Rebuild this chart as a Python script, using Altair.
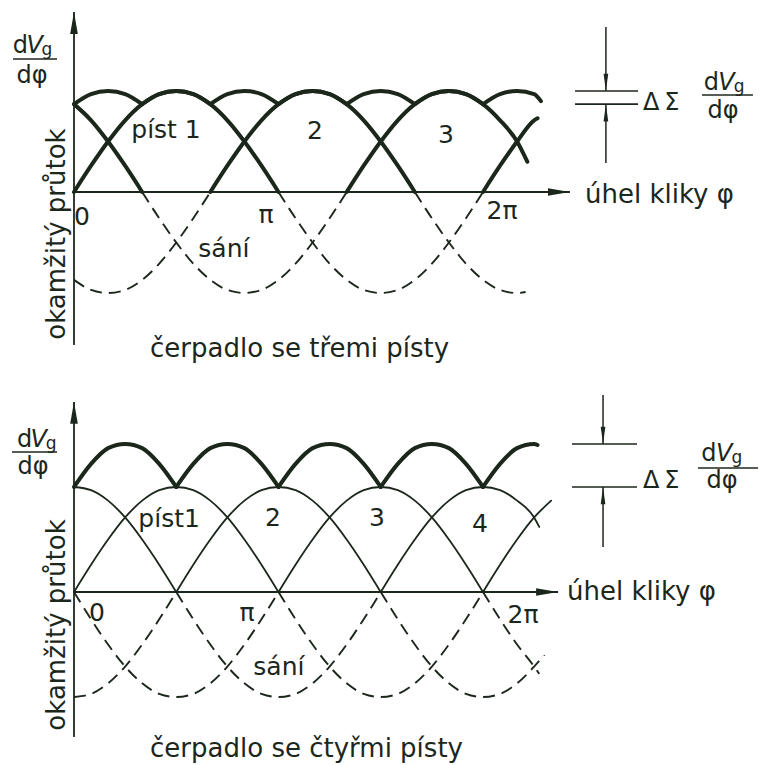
import altair as alt
import pandas as pd

INK = "#1c271c"
FONT = "DejaVu Sans"
PHI = "φ"

# Phase of every curve is given in twelfths of pi (15 degree steps),
# flow values are relative to one piston's peak delivery.

# ---- pump with three pistons -------------------------------------------
T_P1A_PHI = [0, 1, 2, 3, 4, 5, 6, 7, 8, 9, 10, 11, 12]
T_P1A_VAL = [0, 0.26, 0.5, 0.71, 0.87, 0.97, 1, 0.97, 0.87, 0.71, 0.5, 0.26, 0]
T_P1B_PHI = [24, 25, 26, 27, 27.2]
T_P1B_VAL = [0, 0.26, 0.5, 0.71, 0.73]
T_P2_PHI = [8, 9, 10, 11, 12, 13, 14, 15, 16, 17, 18, 19, 20]
T_P2_VAL = [0, 0.26, 0.5, 0.71, 0.87, 0.97, 1, 0.97, 0.87, 0.71, 0.5, 0.26, 0]
T_P3A_PHI = [0, 1, 2, 3, 4]
T_P3A_VAL = [0.87, 0.71, 0.5, 0.26, 0]
T_P3B_PHI = [16, 17, 18, 19, 20, 21, 22, 23, 24, 25, 26, 26.6]
T_P3B_VAL = [0, 0.26, 0.5, 0.71, 0.87, 0.97, 1, 0.97, 0.87, 0.71, 0.5, 0.3]

# suction strokes (negative flow)
T_S1_PHI = [12, 13, 14, 15, 16, 17, 18, 19, 20, 21, 22, 23, 24]
T_S1_VAL = [0, -0.26, -0.5, -0.71, -0.87, -0.97, -1, -0.97, -0.87, -0.71, -0.5, -0.26, 0]
T_S2A_PHI = [0, 1, 2, 3, 4, 5, 6, 7, 8]
T_S2A_VAL = [-0.87, -0.97, -1, -0.97, -0.87, -0.71, -0.5, -0.26, 0]
T_S2B_PHI = [20, 21, 22, 23, 24, 25, 26, 26.5]
T_S2B_VAL = [0, -0.26, -0.5, -0.71, -0.87, -0.97, -1, -0.99]
T_S3_PHI = [4, 5, 6, 7, 8, 9, 10, 11, 12, 13, 14, 15, 16]
T_S3_VAL = [0, -0.26, -0.5, -0.71, -0.87, -0.97, -1, -0.97, -0.87, -0.71, -0.5, -0.26, 0]

# total delivery of the three pistons, arcs meet at the cusps
T_SUM_PHI = [0, 1, 2, 3, 4, 5, 6, 7, 8, 9, 10, 11, 12, 13, 14, 15,
             16, 17, 18, 19, 20, 21, 22, 23, 24, 25, 26, 27, 27.4]
T_SUM_VAL = [0.87, 0.97, 1, 0.97, 0.87, 0.97, 1, 0.97, 0.87, 0.97, 1, 0.97,
             0.87, 0.97, 1, 0.97, 0.87, 0.97, 1, 0.97, 0.87, 0.97, 1, 0.97,
             0.87, 0.97, 1, 0.97, 0.9]
T_SUM_CUSPS = [4, 8, 12, 16, 20, 24]

# ---- pump with four pistons --------------------------------------------
B_P1A_PHI = [0, 1, 2, 3, 4, 5, 6, 7, 8, 9, 10, 11, 12]
B_P1A_VAL = [0, 0.26, 0.5, 0.71, 0.87, 0.97, 1, 0.97, 0.87, 0.71, 0.5, 0.26, 0]
B_P1B_PHI = [24, 25, 26, 27, 28]
B_P1B_VAL = [0, 0.26, 0.5, 0.71, 0.87]
B_P2_PHI = [6, 7, 8, 9, 10, 11, 12, 13, 14, 15, 16, 17, 18]
B_P2_VAL = [0, 0.26, 0.5, 0.71, 0.87, 0.97, 1, 0.97, 0.87, 0.71, 0.5, 0.26, 0]
B_P3_PHI = [12, 13, 14, 15, 16, 17, 18, 19, 20, 21, 22, 23, 24]
B_P3_VAL = [0, 0.26, 0.5, 0.71, 0.87, 0.97, 1, 0.97, 0.87, 0.71, 0.5, 0.26, 0]
B_P4A_PHI = [0, 1, 2, 3, 4, 5, 6]
B_P4A_VAL = [1, 0.97, 0.87, 0.71, 0.5, 0.26, 0]
B_P4B_PHI = [18, 19, 20, 21, 22, 23, 24, 25, 26, 27, 27.3]
B_P4B_VAL = [0, 0.26, 0.5, 0.71, 0.87, 0.97, 1, 0.97, 0.87, 0.71, 0.62]

B_S1_PHI = [12, 13, 14, 15, 16, 17, 18, 19, 20, 21, 22, 23, 24]
B_S1_VAL = [0, -0.26, -0.5, -0.71, -0.87, -0.97, -1, -0.97, -0.87, -0.71, -0.5, -0.26, 0]
B_S2A_PHI = [0, 1, 2, 3, 4, 5, 6]
B_S2A_VAL = [-1, -0.97, -0.87, -0.71, -0.5, -0.26, 0]
B_S2B_PHI = [18, 19, 20, 21, 22, 23, 24, 25, 26, 27, 27.6]
B_S2B_VAL = [0, -0.26, -0.5, -0.71, -0.87, -0.97, -1, -0.97, -0.87, -0.71, -0.6]
B_S3A_PHI = [0, 1, 2, 3, 4, 5, 6, 7, 8, 9, 10, 11, 12]
B_S3A_VAL = [0, -0.26, -0.5, -0.71, -0.87, -0.97, -1, -0.97, -0.87, -0.71, -0.5, -0.26, 0]
B_S3B_PHI = [24, 25, 26, 27, 27.3]
B_S3B_VAL = [0, -0.26, -0.5, -0.71, -0.78]
B_S4_PHI = [6, 7, 8, 9, 10, 11, 12, 13, 14, 15, 16, 17, 18]
B_S4_VAL = [0, -0.26, -0.5, -0.71, -0.87, -0.97, -1, -0.97, -0.87, -0.71, -0.5, -0.26, 0]

B_SUM_PHI = [0, 1, 2, 3, 4, 5, 6, 7, 8, 9, 10, 11, 12, 13, 14, 15, 16, 17,
             18, 19, 20, 21, 22, 23, 24, 25, 26, 27, 27.2]
B_SUM_VAL = [1, 1.22, 1.37, 1.41, 1.37, 1.22, 1, 1.22, 1.37, 1.41, 1.37, 1.22,
             1, 1.22, 1.37, 1.41, 1.37, 1.22, 1, 1.22, 1.37, 1.41, 1.37, 1.22,
             1, 1.22, 1.37, 1.41, 1.40]
B_SUM_CUSPS = [6, 12, 18, 24]


def curves(items):
    rows = []
    for name, phis, vals in items:
        for p, v in zip(phis, vals):
            rows.append({"seg": name, "phi": p / 12, "v": v})
    return pd.DataFrame(rows)


def arcs(name, phis, vals, cusps):
    rows, k = [], 0
    for p, v in zip(phis, vals):
        rows.append({"seg": f"{name}{k}", "phi": p / 12, "v": v})
        if p in cusps:
            k += 1
            rows.append({"seg": f"{name}{k}", "phi": p / 12, "v": v})
    return pd.DataFrame(rows)


XDOM = [-74 / 204.5, (761 - 74) / 204.5]

UP = "M0,0 L0.35,2 L-0.35,2 Z"
RIGHT = "M0,0 L-2,-0.35 L-2,0.35 Z"
UP_S = "M0,0 L0.27,2 L-0.27,2 Z"
DOWN_S = "M0,0 L0.27,-2 L-0.27,-2 Z"

STYLES = {
    "label": dict(fontSize=25, align="center", baseline="middle"),
    "caption": dict(fontSize=26, align="left", baseline="alphabetic"),
    "vertical": dict(fontSize=26, align="center", baseline="middle", angle=270),
    "frac": dict(fontSize=24, align="center", baseline="alphabetic"),
    "fracV": dict(fontSize=24, align="center", baseline="alphabetic", fontStyle="italic"),
    "sub": dict(fontSize=17, align="center", baseline="alphabetic"),
    "delta": dict(fontSize=24, align="left", baseline="alphabetic"),
}


def frac(xd, xv, xg, base, base2, xphi):
    """Pieces of the dV_g / dphi fraction."""
    return [
        (xd, base, "d", "frac"), (xv, base, "V", "fracV"),
        (xg, base - 0.02, "g", "sub"), (xphi, base2, "d" + PHI, "frac"),
    ]


def panel(ydom, height, bold, thin, dashed, env, axis_bottom, axis_top, axis_right,
          mark_x, hi, lo, ann_top, ann_bottom, bar_x, frac_bars, labels):
    x = alt.X("phi:Q", scale=alt.Scale(domain=XDOM, nice=False, zero=False), axis=None)
    y = alt.Y("v:Q", scale=alt.Scale(domain=ydom, nice=False, zero=False), axis=None)
    layers = []

    rules = pd.DataFrame([
        {"phi": 0, "v": axis_bottom, "phi2": 0, "v2": axis_top, "w": 1.8},
        {"phi": 0, "v": 0, "phi2": axis_right, "v2": 0, "w": 1.8},
        {"phi": mark_x, "v": ann_top, "phi2": mark_x, "v2": hi, "w": 1.5},
        {"phi": mark_x, "v": ann_bottom, "phi2": mark_x, "v2": lo, "w": 1.5},
        {"phi": bar_x[0], "v": hi, "phi2": bar_x[1], "v2": hi, "w": 1.6},
        {"phi": bar_x[0], "v": lo, "phi2": bar_x[1], "v2": lo, "w": 1.6},
    ] + [{"phi": a, "v": b, "phi2": c, "v2": b, "w": 1.6} for a, c, b in frac_bars])
    layers.append(alt.Chart(rules).mark_rule(color=INK).encode(
        x=x, y=y, x2="phi2:Q", y2="v2:Q",
        strokeWidth=alt.StrokeWidth("w:Q", scale=None)))

    if dashed is not None:
        layers.append(alt.Chart(dashed).mark_line(
            color=INK, strokeWidth=1.9, strokeDash=[12, 7], interpolate="monotone"
        ).encode(x=x, y=y, detail="seg:N"))
    if thin is not None:
        layers.append(alt.Chart(thin).mark_line(
            color=INK, strokeWidth=1.8, interpolate="monotone", strokeCap="round"
        ).encode(x=x, y=y, detail="seg:N"))
    for df in [bold, env]:
        if df is not None:
            layers.append(alt.Chart(df).mark_line(
                color=INK, strokeWidth=4, interpolate="monotone",
                strokeCap="round", strokeJoin="round"
            ).encode(x=x, y=y, detail="seg:N"))

    heads = [
        (0, axis_top, UP, 480),
        (axis_right, 0, RIGHT, 480),
        (mark_x, hi, DOWN_S, 300),
        (mark_x, lo, UP_S, 300),
    ]
    for px, py, shape, size in heads:
        layers.append(alt.Chart(pd.DataFrame({"phi": [px], "v": [py]})).mark_point(
            shape=shape, size=size, filled=True, opacity=1, color=INK, strokeWidth=0
        ).encode(x=x, y=y))

    lab = pd.DataFrame(labels, columns=["phi", "v", "text", "style"])
    for style, opts in STYLES.items():
        sub = lab[lab["style"] == style]
        if len(sub):
            layers.append(alt.Chart(sub).mark_text(
                font=FONT, color=INK, **opts).encode(x=x, y=y, text="text:N"))
    return alt.layer(*layers).properties(width=761, height=height)


# ---- three-piston panel --------------------------------------------------
top_bold = curves([
    ("p1a", T_P1A_PHI, T_P1A_VAL), ("p1b", T_P1B_PHI, T_P1B_VAL),
    ("p2", T_P2_PHI, T_P2_VAL), ("p3a", T_P3A_PHI, T_P3A_VAL),
    ("p3b", T_P3B_PHI, T_P3B_VAL)])
top_dash = curves([
    ("s1", T_S1_PHI, T_S1_VAL), ("s2a", T_S2A_PHI, T_S2A_VAL),
    ("s2b", T_S2B_PHI, T_S2B_VAL), ("s3", T_S3_PHI, T_S3_VAL)])
top_env = arcs("sum", T_SUM_PHI, T_SUM_VAL, T_SUM_CUSPS)

top_labels = [
    (0.45, 0.614, "píst 1", "label"),
    (1.178, 0.604, "2", "label"),
    (1.819, 0.564, "3", "label"),
    (0.039, -0.248, "0", "label"),
    (0.939, -0.228, "π", "label"),
    (2.093, -0.188, "2π", "label"),
    (0.733, -0.564, "sání", "label"),
    (2.499, -0.109, "úhel kliky " + PHI, "caption"),
    (0.372, -1.634, "čerpadlo se třemi písty", "caption"),
    (-0.083, -0.416, "okamžitý průtok", "vertical"),
    (2.782, 0.812, "Δ\u2009Σ", "delta"),
] + frac(-0.262, -0.192, -0.132, 1.376, 1.079, -0.205) \
  + frac(3.117, 3.190, 3.252, 1.01, 0.733, 3.174)
TOP_YDOM = [-(382 - 192) / 101, 192 / 101]

top = panel(TOP_YDOM, 382, top_bold, None, top_dash, top_env,
            -1.515, 1.782, 2.425, 2.601, max(T_SUM_VAL), min(T_SUM_VAL), 1.634, 0.287,
            (2.450, 2.758), [(-0.298, -0.083, 1.317), (3.071, 3.320, 0.960)], top_labels)

# ---- four-piston panel ---------------------------------------------------
bot_thin = curves([
    ("p1a", B_P1A_PHI, B_P1A_VAL), ("p1b", B_P1B_PHI, B_P1B_VAL),
    ("p2", B_P2_PHI, B_P2_VAL), ("p3", B_P3_PHI, B_P3_VAL),
    ("p4a", B_P4A_PHI, B_P4A_VAL), ("p4b", B_P4B_PHI, B_P4B_VAL)])
bot_dash = curves([
    ("s1", B_S1_PHI, B_S1_VAL), ("s2a", B_S2A_PHI, B_S2A_VAL),
    ("s2b", B_S2B_PHI, B_S2B_VAL), ("s3a", B_S3A_PHI, B_S3A_VAL),
    ("s3b", B_S3B_PHI, B_S3B_VAL), ("s4", B_S4_PHI, B_S4_VAL)])
bot_env = arcs("sum", B_SUM_PHI, B_SUM_VAL, B_SUM_CUSPS)

bot_labels = [
    (0.465, 0.695, "píst1", "label"),
    (0.973, 0.705, "2", "label"),
    (1.482, 0.705, "3", "label"),
    (1.985, 0.648, "4", "label"),
    (0.112, -0.2, "0", "label"),
    (0.846, -0.2, "π", "label"),
    (2.196, -0.219, "2π", "label"),
    (1.002, -0.714, "sání", "label"),
    (2.411, -0.076, "úhel kliky " + PHI, "caption"),
    (0.372, -1.571, "čerpadlo se čtyřmi písty", "caption"),
    (-0.083, -0.314, "okamžitý průtok", "vertical"),
    (2.782, 0.99, "Δ\u2009Σ", "delta"),
] + frac(-0.242, -0.172, -0.112, 1.381, 1.124, -0.2) \
  + frac(3.105, 3.180, 3.242, 1.25, 0.990, 3.169)
BOT_YDOM = [-(383 - 210) / 105, 210 / 105]

bottom = panel(BOT_YDOM, 383, None, bot_thin, bot_dash, bot_env,
               -1.381, 1.81, 2.367, 2.587, max(B_SUM_VAL), min(B_SUM_VAL), 1.876, 0.429,
               (2.435, 2.753), [(-0.303, -0.083, 1.333), (3.051, 3.345, 1.181)], bot_labels)

chart = alt.vconcat(top, bottom, spacing=0).properties(
    padding=0
).configure(background="white").configure_view(stroke=None)

chart.save("out.html", embed_options={"renderer": "svg", "actions": False})
